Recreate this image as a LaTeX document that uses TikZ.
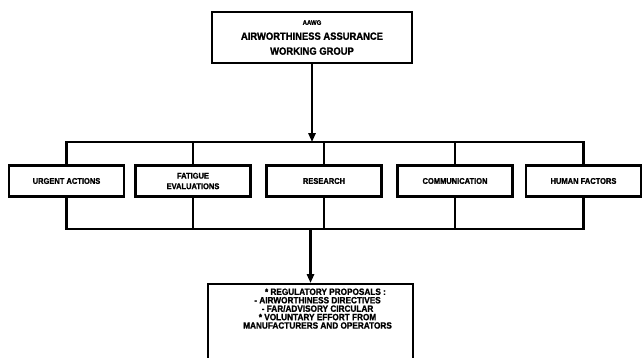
\documentclass[tikz,border=0pt]{standalone}
\usepackage{fontspec}
\setmainfont{Liberation Sans}[FakeStretch=0.9, BoldFeatures={FakeBold=1.2}]
\usetikzlibrary{arrows.meta, shadows}

\begin{document}
\begin{tikzpicture}[x=0.02cm, y=-0.02cm,
    box/.style={draw, line width=1.3pt, fill=white, minimum width=#1, minimum height=0.62cm, align=center, inner sep=1pt,
        font=\bfseries\fontsize{4.75}{6}\selectfont,
        drop shadow={shadow xshift=0.7pt, shadow yshift=-0.7pt, opacity=1, fill=black}},
    box/.default=2.3cm,
    link/.style={line width=1.6pt, line cap=rect},
    arrow/.style={-{Triangle[length=5pt, width=4pt]}, line width=1.6pt}
]
\useasboundingbox (0,0) rectangle (642,358);
\clip (0,0) rectangle (642,358);

% top of the tree
\node[box=4cm, minimum height=1.02cm, font=\bfseries\fontsize{5.95}{8.5}\selectfont] (aawg) at (312,37.5)
    {{\fontsize{3.8}{8.5}\selectfont AAWG}\\AIRWORTHINESS ASSURANCE\\WORKING GROUP};

% the five activities
\node[box] (urgent) at (66.5,181) {URGENT ACTIONS};
\node[box] (fatigue) at (193,181) {FATIGUE\\EVALUATIONS};
\node[box] (research) at (324,181) {RESEARCH};
\node[box] (comm) at (455,181) {COMMUNICATION};
\node[box] (human) at (583.5,181) {HUMAN FACTORS};

% outcome
\node[box=4.1cm, anchor=north, font=\bfseries\fontsize{5.2}{4.8}\selectfont] (result) at (310.5,283)
    {\hspace*{8pt}\parbox[c][2cm][t]{3.7cm}{\centering\vspace*{1.5pt}
    \hspace*{9pt}{*} REGULATORY PROPOSALS :\\
    - AIRWORTHINESS DIRECTIVES\\
    - FAR/ADVISORY CIRCULAR\\
    {*} VOLUNTARY EFFORT FROM\\
    MANUFACTURERS AND OPERATORS}};

\coordinate (upbus) at (0,142);
\coordinate (lowbus) at (0,229);

\draw[arrow] (aawg.south) -- (aawg.south |- upbus);
\draw[link] (urgent.north |- upbus) -- (human.north |- upbus);
\draw[link] (urgent.south |- lowbus) -- (human.south |- lowbus);
\foreach \b in {urgent, fatigue, research, comm, human} {
    \draw[link] (\b.north) -- (\b.north |- upbus);
    \draw[link] (\b.south) -- (\b.south |- lowbus);
}
\draw[arrow] (result.north |- lowbus) -- (result.north);
\end{tikzpicture}
\end{document}
